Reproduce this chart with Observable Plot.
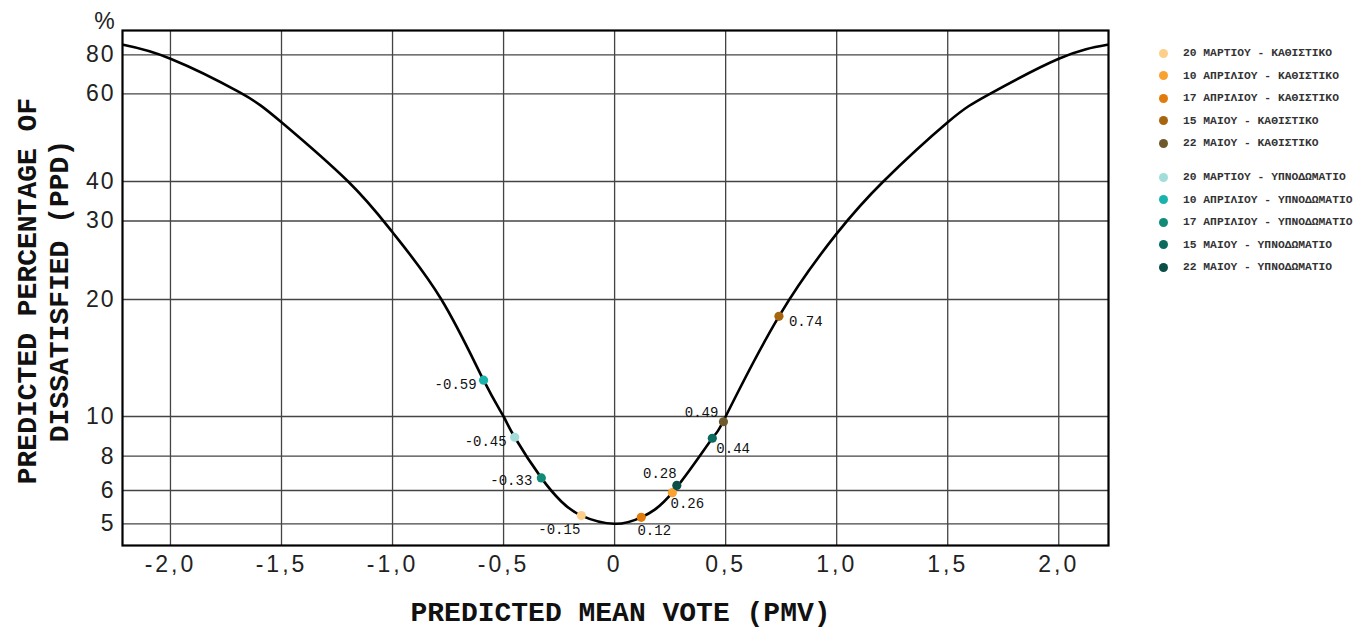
<!DOCTYPE html>
<html>
<head>
<meta charset="utf-8">
<script src="https://cdn.jsdelivr.net/npm/d3@7"></script>
<script src="https://cdn.jsdelivr.net/npm/@observablehq/plot@0.6"></script>
<style>
  body { margin: 0; background: #fff; }
  #wrap { position: relative; width: 1367px; height: 628px; overflow: hidden; }
  #legend { position: absolute; left: 1159px; top: 0; font-family: "Liberation Mono", "DejaVu Sans Mono", monospace; font-size: 11.3px; font-weight: bold; color: #333; }
  .row { position: absolute; left: 0; white-space: nowrap; display: flex; align-items: center; height: 14px; }
  .dot { width: 9px; height: 9px; border-radius: 50%; margin-right: 15px; flex: none; }
  g[aria-label="x-axis tick label"] text { letter-spacing: 3px; }
  g[aria-label="y-axis tick label"] text { letter-spacing: 2px; }
</style>
</head>
<body>
<div id="wrap"><div id="chart"></div><div id="legend"></div></div>
<script>
// ---- data ----
const xTicks = [-2, -1.5, -1, -0.5, 0, 0.5, 1, 1.5, 2];
const yTicks = [5, 6, 8, 10, 20, 30, 40, 60, 80];

// PPD curve (PMV, PPD %)
const curvePMV = [-2.213, -2.0, -1.69, -1.5, -1.2, -1.0, -0.78, -0.59, -0.5, -0.45, -0.33, -0.24, -0.15, 0, 0.12, 0.26, 0.44, 0.5, 0.74, 1.0, 1.21, 1.5, 1.69, 2.0, 2.219];
const curvePPD = [86.1, 77.7, 60.7, 52.6, 40, 28.3, 20, 12.4, 10, 8.9, 6.67, 5.65, 5.23, 5.0, 5.18, 5.93, 8.85, 10, 18.1, 28.1, 40, 52.6, 60, 77.7, 86.1];

// measured points
const seriesNames = [
  "20 ΜΑΡΤΙΟΥ - ΚΑΘΙΣΤΙΚΟ",
  "10 ΑΠΡΙΛΙΟΥ - ΚΑΘΙΣΤΙΚΟ",
  "17 ΑΠΡΙΛΙΟΥ - ΚΑΘΙΣΤΙΚΟ",
  "15 ΜΑΙΟΥ - ΚΑΘΙΣΤΙΚΟ",
  "22 ΜΑΙΟΥ - ΚΑΘΙΣΤΙΚΟ",
  "20 ΜΑΡΤΙΟΥ - ΥΠΝΟΔΩΜΑΤΙΟ",
  "10 ΑΠΡΙΛΙΟΥ - ΥΠΝΟΔΩΜΑΤΙΟ",
  "17 ΑΠΡΙΛΙΟΥ - ΥΠΝΟΔΩΜΑΤΙΟ",
  "15 ΜΑΙΟΥ - ΥΠΝΟΔΩΜΑΤΙΟ",
  "22 ΜΑΙΟΥ - ΥΠΝΟΔΩΜΑΤΙΟ"
];
const seriesColors = ["#fdcf8a", "#f9a232", "#e07b0c", "#a8650f", "#6f5a2c",
                      "#a3ddd9", "#19b3ac", "#128a78", "#0c6b5f", "#0a4f47"];
const pointPMV = [-0.15, 0.26, 0.12, 0.74, 0.49, -0.45, -0.59, -0.33, 0.44, 0.28];
const pointPPD = [5.23, 5.93, 5.18, 18.1, 9.71, 8.9, 12.4, 6.67, 8.85, 6.26];

// ---- layout ----
const yRange = [523.3, 490, 455.7, 416, 299, 220.5, 181, 93.3, 54.3]; // pixel positions of yTicks
const labelPlacement = {
  "-0.15": [-22, 14, "middle"],
  "0.26": [15, 11, "middle"],
  "0.12": [13, 13, "middle"],
  "0.74": [10, 5, "start"],
  "0.49": [-5, -9, "end"],
  "-0.45": [-8, 4, "end"],
  "-0.59": [-7, 4, "end"],
  "-0.33": [-9, 3, "end"],
  "0.44": [4, 10, "start"],
  "0.28": [-17, -12, "middle"]
};

const curve = curvePMV.map((x, i) => ({pmv: x, ppd: curvePPD[i]}));
const points = pointPMV.map((x, i) => ({pmv: x, ppd: pointPPD[i], name: seriesNames[i], color: seriesColors[i], label: x.toFixed(2)}));

const fmtX = d => d === 0 ? "0" : d.toFixed(1).replace(".", ",");
const mono = "Liberation Mono, DejaVu Sans Mono, monospace";

const labelMarks = points.map(p => {
  const [dx, dy, anchor] = labelPlacement[p.label];
  return Plot.text([p], {x: "pmv", y: "ppd", text: "label", dx, dy, textAnchor: anchor,
    fontFamily: mono, fontSize: 14, fill: "#111"});
});

const chart = Plot.plot({
  width: 1367,
  height: 628,
  marginLeft: 122,
  marginRight: 259,
  marginTop: 30,
  marginBottom: 83,
  style: {fontFamily: "Liberation Sans, Arial, sans-serif", fontSize: "23px", color: "#222", background: "transparent"},
  x: {domain: [-2.216, 2.224]},
  y: {type: "log", domain: yTicks, range: yRange},
  color: {type: "identity"},
  marks: [
    Plot.gridX(xTicks, {stroke: "#444", strokeOpacity: 1, strokeWidth: 1.3}),
    Plot.gridY(yTicks, {stroke: "#444", strokeOpacity: 1, strokeWidth: 1.3}),
    Plot.axisX(xTicks, {tickSize: 0, tickPadding: 10, tickFormat: fmtX, label: null, fill: "#222"}),
    Plot.axisY(yTicks, {tickSize: 0, tickPadding: 7, tickFormat: d => String(d), label: null, fill: "#222"}),
    Plot.line(curve, {x: "pmv", y: "ppd", curve: "natural", stroke: "black", strokeWidth: 2.6}),
    Plot.frame({stroke: "black", strokeWidth: 2.2}),
    Plot.dot(points, {x: "pmv", y: "ppd", r: 4.6, fill: "color", stroke: null}),
    ...labelMarks,
    Plot.text(["%"], {frameAnchor: "top-left", textAnchor: "middle", lineAnchor: "middle", dx: -18, dy: -9, fontSize: 23, fill: "#222"}),
    Plot.text(["PREDICTED MEAN VOTE (PMV)"], {frameAnchor: "bottom", textAnchor: "middle", lineAnchor: "middle", dx: 5, dy: 67,
      fontFamily: mono, fontSize: 28, fontWeight: "bold", fill: "#111"}),
    Plot.text(["PREDICTED PERCENTAGE OF\nDISSATISFIED (PPD)"], {frameAnchor: "left", textAnchor: "middle", lineAnchor: "middle", dx: -81, dy: 3, rotate: -90,
      lineHeight: 1.14, fontFamily: mono, fontSize: 28, fontWeight: "bold", fill: "#111"})
  ]
});
document.getElementById("chart").appendChild(chart);

// legend
const legend = document.getElementById("legend");
seriesNames.forEach((name, i) => {
  const cy = 53 + i * 22.6 + (i >= 5 ? 11 : 0);
  const row = document.createElement("div");
  row.className = "row";
  row.style.top = (cy - 7) + "px";
  const dot = document.createElement("span");
  dot.className = "dot";
  dot.style.background = seriesColors[i];
  const txt = document.createElement("span");
  txt.textContent = name;
  row.appendChild(dot);
  row.appendChild(txt);
  legend.appendChild(row);
});
</script>
</body>
</html>
